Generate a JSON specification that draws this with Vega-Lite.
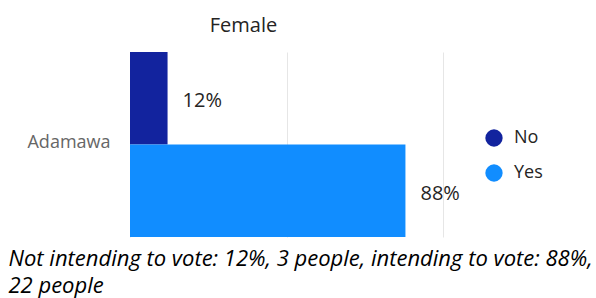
{
  "$schema": "https://vega.github.io/schema/vega-lite/v6.json",
  "autosize": "none",
  "width": 313,
  "height": 185,
  "padding": {"left": 130, "top": 52, "right": 153, "bottom": 61},
  "background": "white",
  "config": {"view": {"stroke": null}},
  "title": {
    "text": "Female",
    "font": "Open Sans",
    "fontSize": 20,
    "fontWeight": "normal",
    "color": "#252423",
    "anchor": "middle",
    "dx": -43,
    "baseline": "alphabetic",
    "offset": 0
  },
  "data": {
    "values": [
      {"state": "Adamawa", "vote": "No", "pct": 0.12},
      {"state": "Adamawa", "vote": "Yes", "pct": 0.88}
    ]
  },
  "encoding": {
    "y": {
      "field": "state",
      "type": "nominal",
      "scale": {"paddingInner": 0, "paddingOuter": 0},
      "axis": {
        "title": null,
        "ticks": false,
        "domain": false,
        "labelFont": "Open Sans",
        "labelFontSize": 18,
        "labelColor": "#666666",
        "labelPadding": 20,
        "labelBaseline": "middle",
        "labelOffset": -2
      }
    },
    "yOffset": {"field": "vote", "type": "nominal", "scale": {"paddingInner": 0, "paddingOuter": 0}},
    "x": {
      "field": "pct",
      "type": "quantitative",
      "scale": {"domain": [0, 1], "nice": false},
      "axis": {
        "values": [0, 0.5, 1],
        "labels": false,
        "ticks": false,
        "domain": false,
        "grid": true,
        "gridColor": "#e6e6e6",
        "title": ["Not intending to vote: 12%, 3 people, intending to vote: 88%,", "22 people"],
        "titleFont": "Open Sans",
        "titleFontStyle": "italic",
        "titleFontWeight": "normal",
        "titleFontSize": 22,
        "titleColor": "#000000",
        "titleAnchor": "start",
        "titleAlign": "left",
        "titleBaseline": "alphabetic",
        "titleX": -122,
        "titleY": 28,
        "titleLineHeight": 27
      }
    }
  },
  "layer": [
    {
      "mark": {"type": "bar"},
      "encoding": {
        "color": {
          "field": "vote",
          "type": "nominal",
          "scale": {"domain": ["No", "Yes"], "range": ["#12239E", "#118DFF"]},
          "legend": {
            "title": null,
            "orient": "none",
            "legendX": 355,
            "legendY": 77,
            "symbolType": "circle",
            "symbolSize": 300,
            "symbolStrokeWidth": 0,
            "labelFont": "Open Sans",
            "labelFontSize": 18,
            "labelColor": "#252423",
            "labelOffset": 11,
            "rowPadding": 17
          }
        }
      }
    },
    {
      "mark": {"type": "text", "align": "left", "dx": 15, "dy": 3, "font": "Open Sans", "fontSize": 20, "color": "#252423"},
      "encoding": {
        "text": {"field": "pct", "type": "quantitative", "format": ".0%"}
      }
    }
  ]
}
